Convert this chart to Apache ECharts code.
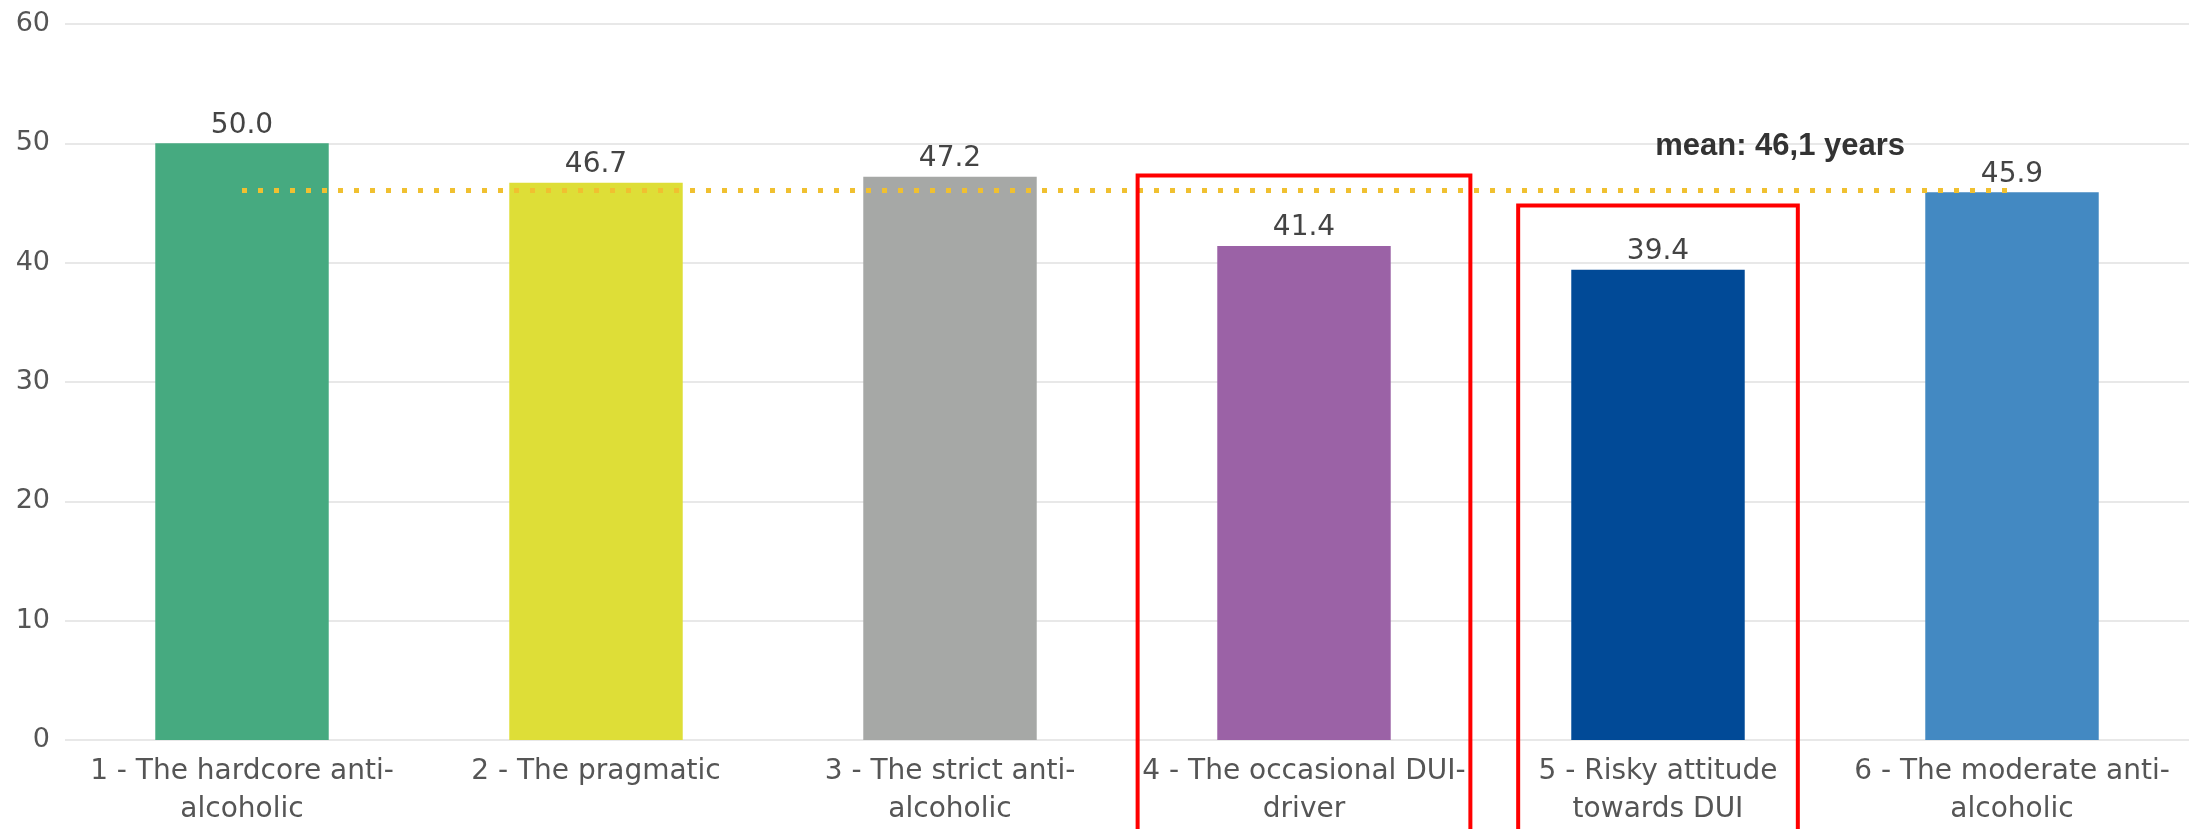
<!DOCTYPE html>
<html>
<head>
<meta charset="utf-8">
<script src="https://cdn.jsdelivr.net/npm/echarts@6/dist/echarts.min.js"></script>
<style>
  html, body { margin: 0; padding: 0; background: #fff; }
  #chart { width: 2195px; height: 829px; }
</style>
</head>
<body>
<div id="chart"></div>
<script>
// categories (x axis)
const categories = [
  "1 - The hardcore anti-\nalcoholic",
  "2 - The pragmatic",
  "3 - The strict anti-\nalcoholic",
  "4 - The occasional DUI-\ndriver",
  "5 - Risky attitude\ntowards DUI",
  "6 - The moderate anti-\nalcoholic"
];
// mean age per group
const ages = [50.0, 46.7, 47.2, 41.4, 39.4, 45.9];
const barColors = ["#46AA80", "#DEDE37", "#A6A8A6", "#9B62A6", "#014A97", "#4389C2"];
const meanAge = 46.1;
const meanText = "mean: 46,1 years";
// red highlight boxes: category index, top value
const boxCats = [3, 4];
const boxTops = [47.3, 44.8];

const chart = echarts.init(document.getElementById("chart"));
const fontFam = "DejaVu Sans";

chart.setOption({
  animation: false,
  backgroundColor: "#fff",
  grid: { left: 65, right: 6, top: 24, bottom: 86 },
  xAxis: {
    type: "category",
    data: categories,
    axisLine: { show: false },
    axisTick: { show: false },
    axisLabel: {
      interval: 0,
      color: "#555",
      fontFamily: fontFam,
      fontSize: 28,
      lineHeight: 38,
      margin: 13
    }
  },
  yAxis: {
    type: "value",
    min: 0,
    max: 60,
    interval: 10,
    axisLine: { show: false },
    axisTick: { show: false },
    axisLabel: { color: "#555", fontFamily: fontFam, fontSize: 27, margin: 15 },
    splitLine: { lineStyle: { color: "#E8E8E8", width: 2 } }
  },
  series: [
    {
      type: "bar",
      barWidth: "49%",
      data: ages.map((v, i) => ({ value: v, itemStyle: { color: barColors[i] } })),
      label: {
        show: true,
        position: "top",
        distance: 4,
        color: "#444",
        fontFamily: fontFam,
        fontSize: 28,
        formatter: p => p.value.toFixed(1)
      },
      markLine: {
        silent: true,
        symbol: "none",
        z: 5,
        label: { show: false },
        lineStyle: { color: "#F0C030", width: 5, type: [5, 11], opacity: 1 },
        data: [[{ coord: [categories[0], meanAge] }, { coord: [categories[5], meanAge] }]]
      }
    }
  ]
});

// annotations: red boxes + mean text, placed via the chart's own scales
function drawAnnotations() {
  const bandW = chart.convertToPixel({ xAxisIndex: 0 }, categories[1]) -
                chart.convertToPixel({ xAxisIndex: 0 }, categories[0]);
  const halfW = [0.47, 0.395];
  const graphics = boxCats.map((c, i) => {
    const cx = chart.convertToPixel({ xAxisIndex: 0 }, categories[c]);
    const top = chart.convertToPixel({ yAxisIndex: 0 }, boxTops[i]);
    const hw = bandW * halfW[i];
    return {
      type: "rect",
      z: 100,
      shape: { x: cx - hw, y: top, width: hw * 2, height: 900 },
      style: { fill: "none", stroke: "#FF0000", lineWidth: 4 }
    };
  });
  const meanY = chart.convertToPixel({ yAxisIndex: 0 }, meanAge);
  const c4 = chart.convertToPixel({ xAxisIndex: 0 }, categories[4]);
  graphics.push({
    type: "text",
    z: 100,
    x: c4 + bandW * 0.345,
    y: meanY - 43,
    style: {
      text: meanText,
      fill: "#333",
      font: "bold 31px 'Liberation Sans', Arial, sans-serif",
      align: "center",
      verticalAlign: "middle"
    }
  });
  chart.setOption({ graphic: graphics });
}
drawAnnotations();
</script>
</body>
</html>
